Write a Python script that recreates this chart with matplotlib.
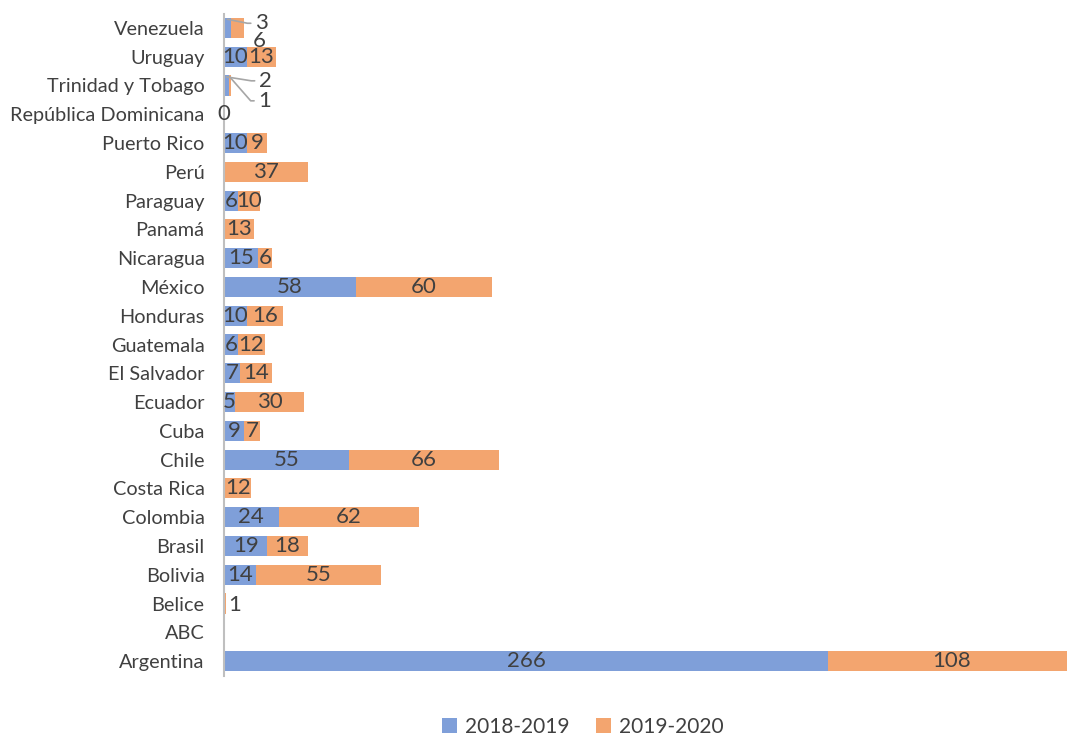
import numpy as np
import matplotlib
matplotlib.use("Agg")
import matplotlib.pyplot as plt

plt.rcParams['font.family'] = ['Lato', 'DejaVu Sans']

# data, bottom to top as drawn
countries = ["Argentina", "ABC", "Belice", "Bolivia", "Brasil", "Colombia",
             "Costa Rica", "Chile", "Cuba", "Ecuador", "El Salvador",
             "Guatemala", "Honduras", "México", "Nicaragua", "Panamá",
             "Paraguay", "Perú", "Puerto Rico", "República Dominicana",
             "Trinidad y Tobago", "Uruguay", "Venezuela"]
s_2018 = [266, np.nan, np.nan, 14, 19, 24, np.nan, 55, 9, 5, 7, 6, 10, 58,
          15, np.nan, 6, np.nan, 10, 0, 2, 10, 3]
s_2019 = [108, np.nan, 1, 55, 18, 62, 12, 66, 7, 30, 14, 12, 16, 60, 6, 13,
          10, 37, 9, np.nan, 1, 13, 6]
series_names = ["2018-2019", "2019-2020"]

blue = "#7F9FD9"
orange = "#F3A56F"
txt = "#404040"

# labels moved out of the bar: (dx, dy in pixels, leader line)
callouts = {
    ("Venezuela", 0): (34, -4, True),
    ("Venezuela", 1): (22, -13, False),
    ("Trinidad y Tobago", 0): (39, -4, True),
    ("Trinidad y Tobago", 1): (35, -24, True),
    ("Belice", 1): (10, -1, False),
}

a = np.array(s_2018, dtype=float)
b = np.array(s_2019, dtype=float)
y = np.arange(len(countries))

fig = plt.figure(figsize=(10.67, 7.36), dpi=100)
ax = fig.add_axes([224 / 1067, 1 - 675.5 / 736, 1 - 224 / 1067, 662 / 736])

ax.barh(y, np.nan_to_num(a), height=0.7, color=blue, label=series_names[0])
ax.barh(y, np.nan_to_num(b), left=np.nan_to_num(a), height=0.7,
        color=orange, label=series_names[1])

for i, c in enumerate(countries):
    for k, (vals, left) in enumerate([(a, 0), (b, np.nan_to_num(a[i]))]):
        v = vals[i]
        if np.isnan(v):
            continue
        cx = left + v / 2
        key = (c, k)
        if key in callouts:
            dx, dy, line = callouts[key]
            yy = y[i] + 0.3 if line else y[i]
            ap = None
            if line:
                ap = dict(arrowstyle="-", color="#A6A6A6", lw=1.2,
                          shrinkA=1, shrinkB=0,
                          connectionstyle="arc,angleA=180,armA=14,angleB=0,armB=0,rad=0")
            ax.annotate(f"{int(v)}", xy=(cx, yy), xytext=(dx, dy),
                        textcoords="offset pixels", ha="center", va="center",
                        fontsize=16, color=txt, arrowprops=ap)
        else:
            ax.text(cx, y[i], f"{int(v)}", ha="center", va="center",
                    fontsize=16, color=txt)

ax.set_yticks(y)
ax.set_yticklabels(countries, fontsize=14.3, color=txt)
ax.tick_params(axis="y", length=0, pad=14)
ax.set_xticks([])
ax.set_xlim(0, 371)
ax.set_ylim(-0.5, len(countries) - 0.5)
for s in ["top", "right", "bottom"]:
    ax.spines[s].set_visible(False)
ax.spines["left"].set_color("#BFBFBF")
ax.spines["left"].set_linewidth(1.5)

fig.legend(loc="center", bbox_to_anchor=(583 / 1067, 1 - 727 / 736), ncol=2,
           frameon=False, fontsize=15, handlelength=0.7, handleheight=0.7,
           handletextpad=0.4, columnspacing=1.3, labelcolor=txt)

fig.savefig("out.png", dpi=100)
